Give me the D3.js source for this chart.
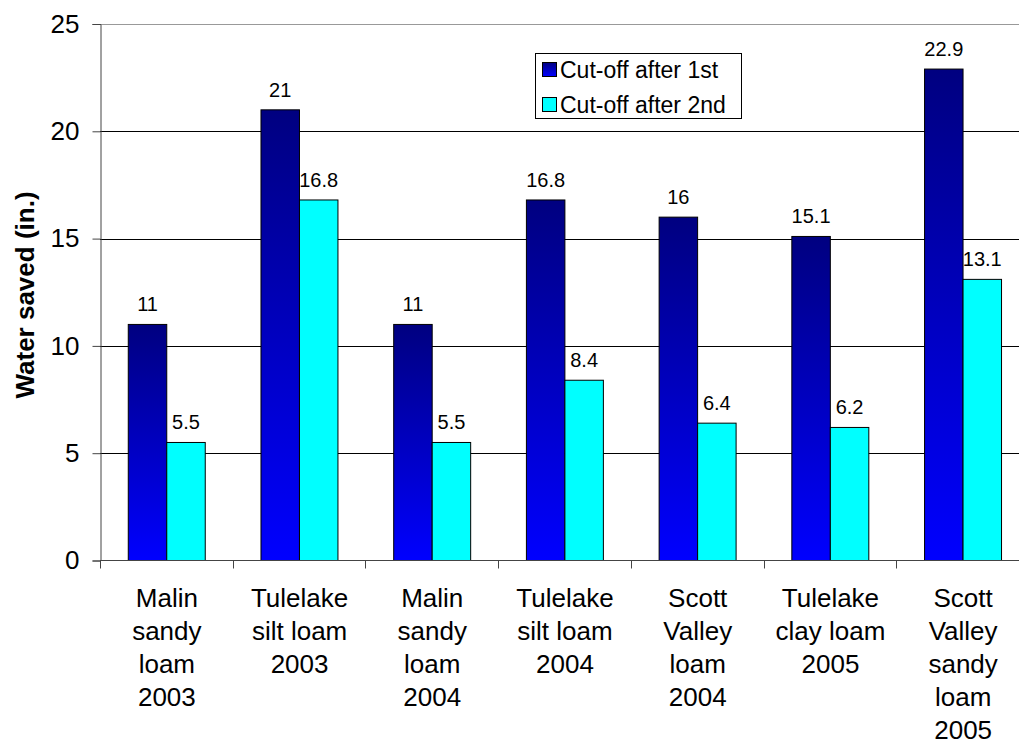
<!DOCTYPE html>
<html>
<head>
<meta charset="utf-8">
<script src="https://cdn.jsdelivr.net/npm/d3@7"></script>
<style>
body { margin: 0; background: #fff; }
svg { display: block; font-family: "Liberation Sans", Arial, sans-serif; }
</style>
</head>
<body>
<div id="chart"></div>
<script>
// data
var categories = [
  ["Malin", "sandy", "loam", "2003"],
  ["Tulelake", "silt loam", "2003"],
  ["Malin", "sandy", "loam", "2004"],
  ["Tulelake", "silt loam", "2004"],
  ["Scott", "Valley", "loam", "2004"],
  ["Tulelake", "clay loam", "2005"],
  ["Scott", "Valley", "sandy", "loam", "2005"]
];
var cutoff1 = [11, 21, 11, 16.8, 16, 15.1, 22.9];
var cutoff2 = [5.5, 16.8, 5.5, 8.4, 6.4, 6.2, 13.1];
var seriesNames = ["Cut-off after 1st", "Cut-off after 2nd"];
var yTicks = [0, 5, 10, 15, 20, 25];

var svg = d3.select("#chart").append("svg")
    .attr("width", 1019)
    .attr("height", 740);

var plotLeft = 100, plotRight = 1029, plotTop = 24, plotBottom = 560.5;

var x = d3.scaleBand()
    .domain(d3.range(categories.length))
    .range([plotLeft, plotRight]);

var y = d3.scaleLinear()
    .domain([0, 25])
    .range([plotBottom, plotTop]);

var defs = svg.append("defs");
var grad = defs.append("linearGradient")
    .attr("id", "blueGrad")
    .attr("x1", 0).attr("y1", 0)
    .attr("x2", 0).attr("y2", 1);
grad.append("stop").attr("offset", "0%").attr("stop-color", "#000080");
grad.append("stop").attr("offset", "100%").attr("stop-color", "#0000ff");

// gridlines
svg.append("g").selectAll("line")
    .data(yTicks.filter(function(d) { return d > 0; }))
    .enter().append("line")
    .attr("x1", plotLeft)
    .attr("x2", plotRight)
    .attr("y1", function(d) { return Math.round(y(d)) + 0.5; })
    .attr("y2", function(d) { return Math.round(y(d)) + 0.5; })
    .attr("stroke", function(d) { return d == 25 ? "#999" : "#000"; })
    .attr("stroke-width", 1);

// bars
var bw = x.bandwidth() * 0.29;
var off = x.bandwidth() * 0.213;

svg.append("g").selectAll("rect")
    .data(cutoff1)
    .enter().append("rect")
    .attr("x", function(d, i) { return x(i) + off; })
    .attr("y", function(d) { return y(d); })
    .attr("width", bw)
    .attr("height", function(d) { return plotBottom - y(d); })
    .attr("fill", "url(#blueGrad)")
    .attr("stroke", "#000")
    .attr("stroke-width", 1);

svg.append("g").selectAll("rect")
    .data(cutoff2)
    .enter().append("rect")
    .attr("x", function(d, i) { return x(i) + off + bw; })
    .attr("y", function(d) { return y(d); })
    .attr("width", bw)
    .attr("height", function(d) { return plotBottom - y(d); })
    .attr("fill", "#00ffff")
    .attr("stroke", "#000")
    .attr("stroke-width", 1);

// value labels
svg.append("g").selectAll("text")
    .data(cutoff1)
    .enter().append("text")
    .attr("x", function(d, i) { return x(i) + off + bw / 2; })
    .attr("y", function(d) { return y(d) - 13; })
    .attr("text-anchor", "middle")
    .attr("font-size", 20)
    .text(function(d) { return d; });

svg.append("g").selectAll("text")
    .data(cutoff2)
    .enter().append("text")
    .attr("x", function(d, i) { return x(i) + off + bw * 1.5; })
    .attr("y", function(d) { return y(d) - 13; })
    .attr("text-anchor", "middle")
    .attr("font-size", 20)
    .text(function(d) { return d; });

// y axis
var yAxis = svg.append("g")
    .attr("transform", "translate(" + (plotLeft + 0.5) + ",0)")
    .call(d3.axisLeft(y).tickValues(yTicks).tickSize(8).tickPadding(13));
yAxis.select(".domain").attr("stroke", "#444");
yAxis.selectAll(".tick line").attr("stroke", "#444");
yAxis.selectAll("text")
    .attr("font-size", 26)
    .attr("font-family", "Liberation Sans, Arial, sans-serif")
    .attr("fill", "#000");

// x axis baseline + ticks
svg.append("line")
    .attr("x1", plotLeft).attr("x2", plotRight)
    .attr("y1", plotBottom).attr("y2", plotBottom)
    .attr("stroke", "#444");

svg.append("g").selectAll("line")
    .data(d3.range(categories.length + 1))
    .enter().append("line")
    .attr("x1", function(d) { return Math.round(plotLeft + d * x.step()) + 0.5; })
    .attr("x2", function(d) { return Math.round(plotLeft + d * x.step()) + 0.5; })
    .attr("y1", plotBottom)
    .attr("y2", plotBottom + 8)
    .attr("stroke", "#444");

// category labels
var catG = svg.append("g").selectAll("text")
    .data(categories)
    .enter().append("text")
    .attr("text-anchor", "middle")
    .attr("font-size", 26)
    .attr("x", function(d, i) { return x(i) + x.bandwidth() / 2 + 0.5; })
    .attr("y", 607);
catG.selectAll("tspan")
    .data(function(d) { return d; })
    .enter().append("tspan")
    .attr("x", function() { return d3.select(this.parentNode).attr("x"); })
    .attr("dy", function(d, i) { return i == 0 ? 0 : 33; })
    .text(function(d) { return d; });

// y axis title
svg.append("text")
    .attr("transform", "translate(34,295) rotate(-90)")
    .attr("text-anchor", "middle")
    .attr("font-size", 26)
    .attr("font-weight", "bold")
    .text("Water saved (in.)");

// legend
var legend = svg.append("g");
legend.append("rect")
    .attr("x", 535.5).attr("y", 53.5)
    .attr("width", 206).attr("height", 65)
    .attr("fill", "#fff")
    .attr("stroke", "#000");

var lg = legend.selectAll("g")
    .data(seriesNames)
    .enter().append("g")
    .attr("transform", function(d, i) { return "translate(542," + (62 + i * 35) + ")"; });
lg.append("rect")
    .attr("x", 0.5).attr("y", 0.5)
    .attr("width", 14).attr("height", 14)
    .attr("fill", function(d, i) { return i == 0 ? "url(#blueGrad)" : "#00ffff"; })
    .attr("stroke", "#000");
lg.append("text")
    .attr("x", 18)
    .attr("y", 16)
    .attr("font-size", 23)
    .text(function(d) { return d; });
</script>
</body>
</html>
